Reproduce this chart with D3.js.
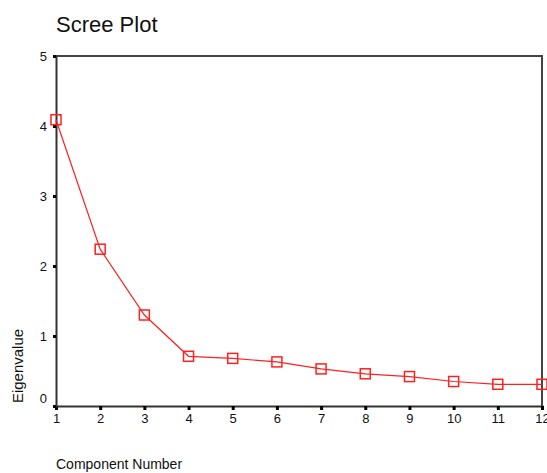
<!DOCTYPE html>
<html lang="en">
<head>
<meta charset="UTF-8">
<title>Scree Plot</title>
<script src="https://d3js.org/d3.v7.min.js"></script>
<style>
    body { margin: 0; background: #fff; }
    svg text { font-family: "Liberation Sans", Arial, sans-serif; fill: #111; }
</style>
</head>
<body>
<svg id="canvas" width="547" height="473"></svg>
<script>
    // component numbers and eigenvalues
    let components = [1, 2, 3, 4, 5, 6, 7, 8, 9, 10, 11, 12];
    let eigenvalues = [4.09, 2.24, 1.30, 0.71, 0.68, 0.63, 0.53, 0.46, 0.42, 0.35, 0.31, 0.31];
    let yTicks = [0, 1, 2, 3, 4, 5];

    let svg = d3.select('#canvas');
    let plot = {left: 56, right: 542, top: 56, bottom: 406};

    let xscale = d3.scaleLinear().domain([1, 12]).range([plot.left, plot.right]);
    let yscale = d3.scaleLinear().domain([0, 5]).range([plot.bottom, plot.top]);

    // frame top and right
    svg.append('path')
        .attr('d', `M${plot.left},${plot.top}H${plot.right}V${plot.bottom}`)
        .attr('fill', 'none')
        .attr('stroke', '#444')
        .attr('stroke-width', 2);

    let xAxis = svg.append('g')
        .attr('transform', `translate(0,${plot.bottom})`)
        .call(d3.axisBottom(xscale).tickValues(components).tickFormat(d3.format('d')).tickSize(4).tickPadding(4));
    let yAxis = svg.append('g')
        .attr('transform', `translate(${plot.left},0)`)
        .call(d3.axisLeft(yscale).tickValues(yTicks).tickFormat(d3.format('d')).tickSize(3).tickPadding(6));

    [xAxis, yAxis].forEach(function (ax) {
        ax.select('.domain').attr('stroke', '#333').attr('stroke-width', 2);
        ax.selectAll('.tick line').attr('stroke', '#000').attr('stroke-width', 3);
        ax.selectAll('.tick text')
            .style('font-family', '"Liberation Sans", Arial, sans-serif')
            .style('font-size', '13px')
            .attr('fill', '#111');
    });
    // the zero label sits a little above the axis line in the original
    yAxis.selectAll('.tick text').filter(function (d) { return d === 0; }).attr('dy', '-0.3em');

    let points = components.map(function (c, i) { return {x: c, y: eigenvalues[i]}; });

    let line_generator = d3.line()
        .x(function (d) { return xscale(d.x); })
        .y(function (d) { return yscale(d.y); });

    svg.append('path')
        .attr('d', line_generator(points))
        .attr('fill', 'none')
        .attr('stroke', '#ff2020')
        .attr('stroke-width', 1.2);

    svg.selectAll('rect.marker')
        .data(points)
        .enter()
        .append('rect')
        .attr('class', 'marker')
        .attr('x', function (d) { return xscale(d.x) - 5; })
        .attr('y', function (d) { return yscale(d.y) - 5; })
        .attr('width', 10)
        .attr('height', 10)
        .attr('fill', 'none')
        .attr('stroke', '#ff2020')
        .attr('stroke-width', 1.5);

    svg.append('text')
        .attr('x', 56)
        .attr('y', 32)
        .style('font-size', '22px')
        .text('Scree Plot');

    svg.append('text')
        .attr('transform', 'translate(23,366) rotate(-90)')
        .attr('text-anchor', 'middle')
        .style('font-size', '15px')
        .text('Eigenvalue');

    svg.append('text')
        .attr('x', 56)
        .attr('y', 469)
        .style('font-size', '14px')
        .text('Component Number');
</script>
</body>
</html>
